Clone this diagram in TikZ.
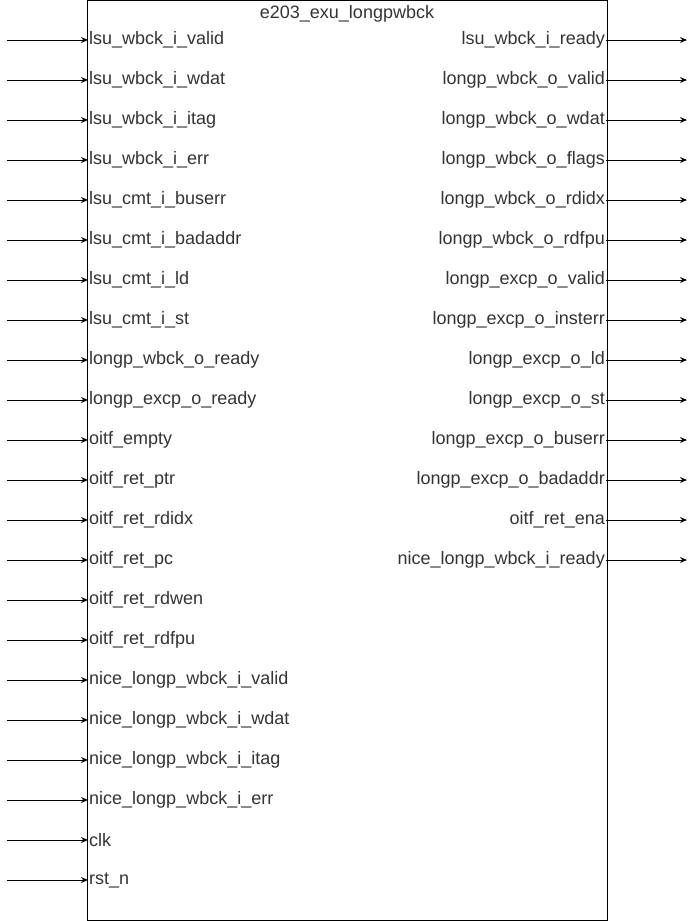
\documentclass[tikz,border=0pt]{standalone}
\usepackage{fontspec}
\setmainfont{Liberation Sans}
\usetikzlibrary{arrows.meta}
\definecolor{txtgray}{RGB}{51,51,51}
\tikzset{
	port/.style={inner sep=1pt, text=txtgray, font=\fontsize{18}{20}\selectfont},
	sig/.style={line width=1pt, -{Stealth[length=7pt,width=6pt]}}
}
\begin{document}
\begin{tikzpicture}[x=1pt, y=-1pt]
	\useasboundingbox (0,0) rectangle (696,921);
	% module box
	\draw[line width=1pt] (87.5,0.5) rectangle (607,920);
	\node[port] (title) at (347,14) {e203\_exu\_longpwbck};

	% inputs
	\foreach \name [count=\i] in {lsu\_wbck\_i\_valid, lsu\_wbck\_i\_wdat, lsu\_wbck\_i\_itag, lsu\_wbck\_i\_err,
		lsu\_cmt\_i\_buserr, lsu\_cmt\_i\_badaddr, lsu\_cmt\_i\_ld, lsu\_cmt\_i\_st,
		longp\_wbck\_o\_ready, longp\_excp\_o\_ready, oitf\_empty, oitf\_ret\_ptr,
		oitf\_ret\_rdidx, oitf\_ret\_pc, oitf\_ret\_rdwen, oitf\_ret\_rdfpu,
		nice\_longp\_wbck\_i\_valid, nice\_longp\_wbck\_i\_wdat, nice\_longp\_wbck\_i\_itag, nice\_longp\_wbck\_i\_err,
		clk, rst\_n}{
		\coordinate (in\i) at (7,40*\i);
		\node[port, anchor=west] (ip\i) at (88,40*\i) {\name};
		\draw[sig] (in\i) -- (ip\i.west);
	}

	% outputs
	\foreach \name [count=\i] in {lsu\_wbck\_i\_ready, longp\_wbck\_o\_valid, longp\_wbck\_o\_wdat, longp\_wbck\_o\_flags,
		longp\_wbck\_o\_rdidx, longp\_wbck\_o\_rdfpu, longp\_excp\_o\_valid, longp\_excp\_o\_insterr,
		longp\_excp\_o\_ld, longp\_excp\_o\_st, longp\_excp\_o\_buserr, longp\_excp\_o\_badaddr,
		oitf\_ret\_ena, nice\_longp\_wbck\_i\_ready}{
		\node[port, anchor=east] (op\i) at (606,40*\i) {\name};
		\coordinate (out\i) at (687,40*\i);
		\draw[sig] (op\i.east) -- (out\i);
	}
\end{tikzpicture}
\end{document}
